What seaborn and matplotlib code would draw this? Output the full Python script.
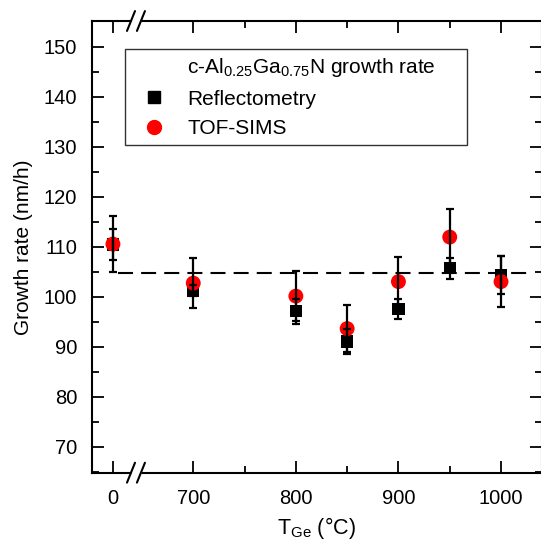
import matplotlib
matplotlib.use("Agg")
import matplotlib.pyplot as plt
from matplotlib.lines import Line2D
from matplotlib.ticker import FixedLocator, MultipleLocator
import seaborn as sns
import pandas as pd

# ---- data ----
temps = [0, 700, 800, 850, 900, 950, 1000]
refl = [110.4, 101.2, 97.1, 91.0, 97.5, 105.7, 104.3]
refl_err = [3.1, 1.1, 2.5, 2.5, 2.0, 2.1, 3.8]
tof = [110.5, 102.7, 100.1, 93.6, 103.0, 111.9, 103.0]
tof_err = [5.6, 5.0, 5.0, 4.7, 5.0, 5.6, 5.1]
avg_rate = 104.8
major_ticks = [0, 700, 800, 900, 1000]
minor_ticks = [750, 850, 950]
y_major = [70, 80, 90, 100, 110, 120, 130, 140, 150]

legend_title = r"c-Al$_{\mathregular{0.25}}$Ga$_{\mathregular{0.75}}$N growth rate"
series_names = ["Reflectometry", "TOF-SIMS"]

# broken axis: the 0 °C sample is placed left of the break
ZERO_POS = 621.7
def pos(t):
    return ZERO_POS if t == 0 else t

sns.set_style("ticks")
plt.rcParams["font.family"] = ["Liberation Sans", "DejaVu Sans"]
plt.rcParams["mathtext.fontset"] = "custom"
plt.rcParams["mathtext.rm"] = "Liberation Sans"
plt.rcParams["mathtext.it"] = "Liberation Sans:italic"
for k in ("text.color", "axes.labelcolor", "xtick.color", "ytick.color",
          "axes.edgecolor"):
    plt.rcParams[k] = "black"

df = pd.DataFrame({
    "x": [pos(t) for t in temps] * 2,
    "y": refl + tof,
    "err": refl_err + tof_err,
    "series": [series_names[0]] * len(temps) + [series_names[1]] * len(temps),
})

fig = plt.figure(figsize=(5.41, 5.44), dpi=100)
ax = fig.add_axes([0.1695, 0.1311, 0.8315, 0.8303])

# dashed average line
ax.plot([626.5, 1027], [avg_rate, avg_rate], color="black", lw=1.5,
        ls=(0, (7.2, 3.9)), zorder=1)

d1 = df[df.series == series_names[0]]
d2 = df[df.series == series_names[1]]
sns.scatterplot(data=d1, x="x", y="y", marker="s", color="black", s=78,
                edgecolor="none", ax=ax, zorder=2, legend=False)
sns.scatterplot(data=d2, x="x", y="y", marker="o", color="#ff0000", s=115,
                edgecolor="none", ax=ax, zorder=3, legend=False)
for d in (d2, d1):
    ax.errorbar(d["x"], d["y"], yerr=d["err"], fmt="none", ecolor="black",
                elinewidth=1.6, capsize=3.2, capthick=1.6, zorder=4)

ax.set_xlim(601, 1039.5)
ax.set_ylim(64.8, 155.1)

ax.xaxis.set_major_locator(FixedLocator([pos(t) for t in major_ticks]))
ax.set_xticklabels([str(t) for t in major_ticks])
ax.xaxis.set_minor_locator(FixedLocator(minor_ticks))
ax.yaxis.set_major_locator(FixedLocator(y_major))
ax.yaxis.set_minor_locator(MultipleLocator(5))

for s in ax.spines.values():
    s.set_visible(True)
    s.set_linewidth(1.5)
    s.set_color("black")

ax.tick_params(which="both", direction="in", top=True, right=True,
               color="black", width=1.3, labelcolor="black")
ax.tick_params(which="major", length=8.6)
ax.tick_params(which="minor", length=5)
ax.tick_params(axis="x", which="major", labelsize=14.5, pad=12)
ax.tick_params(axis="y", which="major", labelsize=14.5, pad=10.5)

ax.set_xlabel(r"T$_{\mathregular{Ge}}$ (°C)", fontsize=15.5, labelpad=5,
              color="black")
ax.set_ylabel("Growth rate (nm/h)", fontsize=15, labelpad=8, color="black")

# axis break marks on top and bottom spines
trans = ax.get_xaxis_transform()
for yb in (0.0, 1.0):
    ax.plot([639.3, 649.0], [yb, yb], color="white", lw=3.5, transform=trans,
            clip_on=False, zorder=10, solid_capstyle="butt")
    for xc in (639.3, 649.0):
        ax.plot([xc - 3.9, xc + 3.9], [yb - 0.022, yb + 0.022], color="black",
                lw=1.5, transform=trans, clip_on=False, zorder=11)

handles = [
    Line2D([], [], linestyle="none", marker=None),
    Line2D([], [], linestyle="none", marker="s", color="black", markersize=8.6),
    Line2D([], [], linestyle="none", marker="o", color="#ff0000", markersize=10),
]
labels = [legend_title] + series_names
leg = ax.legend(handles, labels, loc="upper left",
                bbox_to_anchor=(0.074, 0.02, 0.760, 0.918), mode="expand",
                borderaxespad=0, fontsize=15, frameon=True, fancybox=False,
                edgecolor="black", handlelength=2.1, handletextpad=0.53,
                borderpad=0.35, labelspacing=0.5)
leg.get_frame().set_linewidth(1.0)
for t in leg.get_texts():
    t.set_color("black")

fig.savefig("out.png", dpi=100)
